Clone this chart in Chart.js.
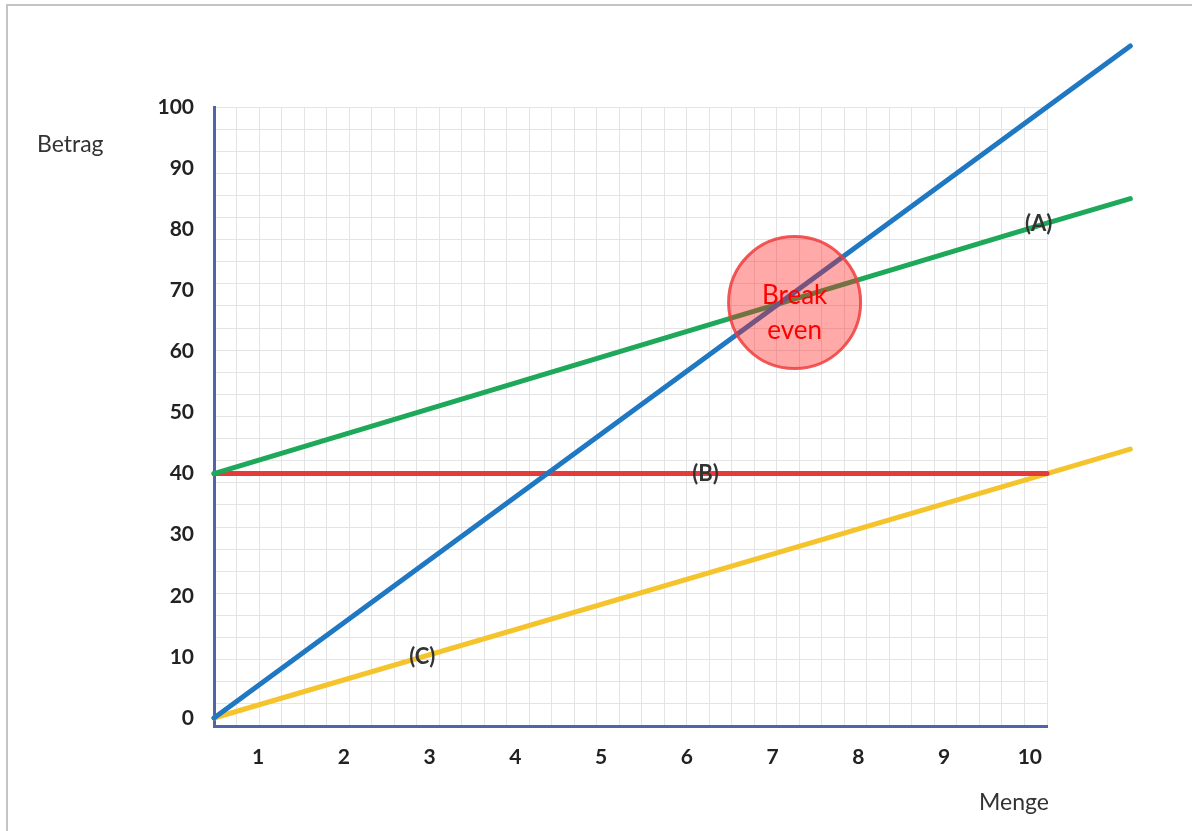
<!DOCTYPE html>
<html lang="de">
<head>
<meta charset="utf-8">
<title>Break-even</title>
<script src="https://cdn.jsdelivr.net/npm/chart.js@4/dist/chart.umd.min.js"></script>
<style>
html, body { margin: 0; padding: 0; background: #fff; }
#wrap { position: relative; width: 1192px; height: 831px; overflow: hidden; background: #fff; }
#frame { position: absolute; left: 6px; top: 4px; right: -10px; bottom: -10px;
         border-left: 2px solid #c4c4c4; border-top: 2px solid #c4c4c4; pointer-events: none; }
canvas { position: absolute; left: 0; top: 0; }
</style>
</head>
<body>
<div id="wrap">
  <canvas id="chart" width="1192" height="831"></canvas>
  <div id="frame"></div>
</div>
<script>
// Menge (x) und die Beträge der vier Geraden
const menge        = [0, 10, 11];
const erloes       = [0, 100, 110];   // blaue Gerade
const gesamtkosten = [40, 81, 85];    // (A)
const fixkosten    = [40, 40, null];  // (B)
const varKosten    = [0, 40, 44];     // (C)

// Achsenbeschriftungen
const xTickLabels = [1, 2, 3, 4, 5, 6, 7, 8, 9, 10];
const yTickLabels = [0, 10, 20, 30, 40, 50, 60, 70, 80, 90, 100];

// Break-even-Markierung
const breakEven = { x: 6.97, y: 68 };
const breakEvenText = ['Break', 'even'];

// Kennzeichnung der Geraden
const lineLabels = ['(A)', '(B)', '(C)'];
const lineLabelX = [9.9, 5.9, 2.5];
const lineLabelY = [80.8, 40, 10];

const FONT = 'Lato, "Open Sans", sans-serif';
const AXIS_COLOR = '#5064aa';

const points = vals => menge.map((m, i) => ({ x: m, y: vals[i] }));

const lineStyle = color => ({
  borderColor: color,
  backgroundColor: color,
  borderWidth: 5,
  borderCapStyle: 'round',
  pointRadius: 0,
  tension: 0,
  clip: false,
  order: 1
});

const textPlugin = {
  id: 'texte',
  afterDatasetsDraw(chart) {
    const { ctx, chartArea } = chart;
    const xs = chart.scales.x, ys = chart.scales.y;
    ctx.save();

    // (A), (B), (C) auf den Geraden
    ctx.font = 'bold 22px ' + FONT;
    ctx.fillStyle = '#333';
    ctx.textAlign = 'center';
    ctx.textBaseline = 'middle';
    lineLabels.forEach((t, i) => {
      ctx.fillText(t, xs.getPixelForValue(lineLabelX[i]), ys.getPixelForValue(lineLabelY[i]));
    });

    // Text im Break-even-Kreis
    const pt = chart.getDatasetMeta(0).data[0];
    ctx.font = '26px ' + FONT;
    ctx.fillStyle = '#ff0000';
    ctx.textBaseline = 'alphabetic';
    ctx.fillText(breakEvenText[0], pt.x, pt.y + 1);
    ctx.fillText(breakEvenText[1], pt.x, pt.y + 36);

    // Achsentitel
    ctx.font = '23px ' + FONT;
    ctx.fillStyle = '#333';
    ctx.textAlign = 'left';
    ctx.fillText('Betrag', chartArea.left - 177, chartArea.top + 45);
    ctx.textAlign = 'right';
    ctx.fillText('Menge', chartArea.right + 2, chartArea.bottom + 84);

    ctx.restore();
  }
};

// Sichtbarer Mengenbereich der Achse; die Geraden laufen darüber hinaus
const X_MIN = 0, X_MAX = 10;
const fixXRange = s => { s.min = X_MIN; s.max = X_MAX; };

new Chart(document.getElementById('chart'), {
  type: 'line',
  data: {
    datasets: [
      {
        label: 'Break even',
        data: [breakEven],
        showLine: false,
        pointRadius: 66,
        pointStyle: 'circle',
        backgroundColor: 'rgba(255, 30, 30, 0.38)',
        borderColor: 'rgba(240, 60, 60, 0.85)',
        borderWidth: 3,
        clip: false,
        order: 0
      },
      Object.assign({ label: 'Erlös', data: points(erloes) }, lineStyle('#1f78c1')),
      Object.assign({ label: '(A)', data: points(gesamtkosten) }, lineStyle('#1ea85a')),
      Object.assign({ label: '(B)', data: points(fixkosten) }, lineStyle('#e63b3b')),
      Object.assign({ label: '(C)', data: points(varKosten) }, lineStyle('#f5c42c'))
    ]
  },
  options: {
    responsive: false,
    animation: false,
    devicePixelRatio: 1,
    events: [],
    layout: { padding: { left: 134, right: 145, top: 107, bottom: 45 } },
    plugins: { legend: { display: false }, tooltip: { enabled: false }, title: { display: false } },
    scales: {
      x: {
        type: 'linear', position: 'bottom', bounds: 'data', weight: 0,
        afterDataLimits: fixXRange,
        afterBuildTicks: fixXRange,
        grid: { display: false, drawTicks: false },
        ticks: { display: false },
        border: { display: true, color: AXIS_COLOR, width: 3 }
      },
      xl: {
        type: 'linear', position: 'bottom', min: 0.487, max: 10.2, weight: 1,
        grid: { display: false, drawTicks: false },
        border: { display: false },
        ticks: { color: '#222', padding: 19, font: { family: FONT, size: 21, weight: 'bold' }, autoSkip: false, maxRotation: 0 },
        afterBuildTicks: s => { s.ticks = xTickLabels.map(v => ({ value: v })); },
        afterFit: s => { s.height = 60; }
      },
      y: {
        type: 'linear', position: 'left', min: -1.31, max: 100,
        grid: { display: false, drawTicks: false },
        border: { display: true, color: AXIS_COLOR, width: 3 },
        ticks: { color: '#222', padding: 20, font: { family: FONT, size: 21, weight: 'bold' }, autoSkip: false },
        afterBuildTicks: s => { s.ticks = yTickLabels.map(v => ({ value: v })); },
        afterFit: s => { s.width = 80; }
      },
      gx: {
        type: 'linear', position: 'top', min: 0, max: 37,
        ticks: { display: false, stepSize: 1 },
        grid: { color: '#e4e4e4', lineWidth: 1, drawTicks: false },
        border: { display: false }
      },
      gy: {
        type: 'linear', position: 'right', min: 0, max: 28,
        ticks: { display: false, stepSize: 1 },
        grid: { color: '#e4e4e4', lineWidth: 1, drawTicks: false },
        border: { display: false }
      }
    }
  },
  plugins: [textPlugin]
});
</script>
</body>
</html>
